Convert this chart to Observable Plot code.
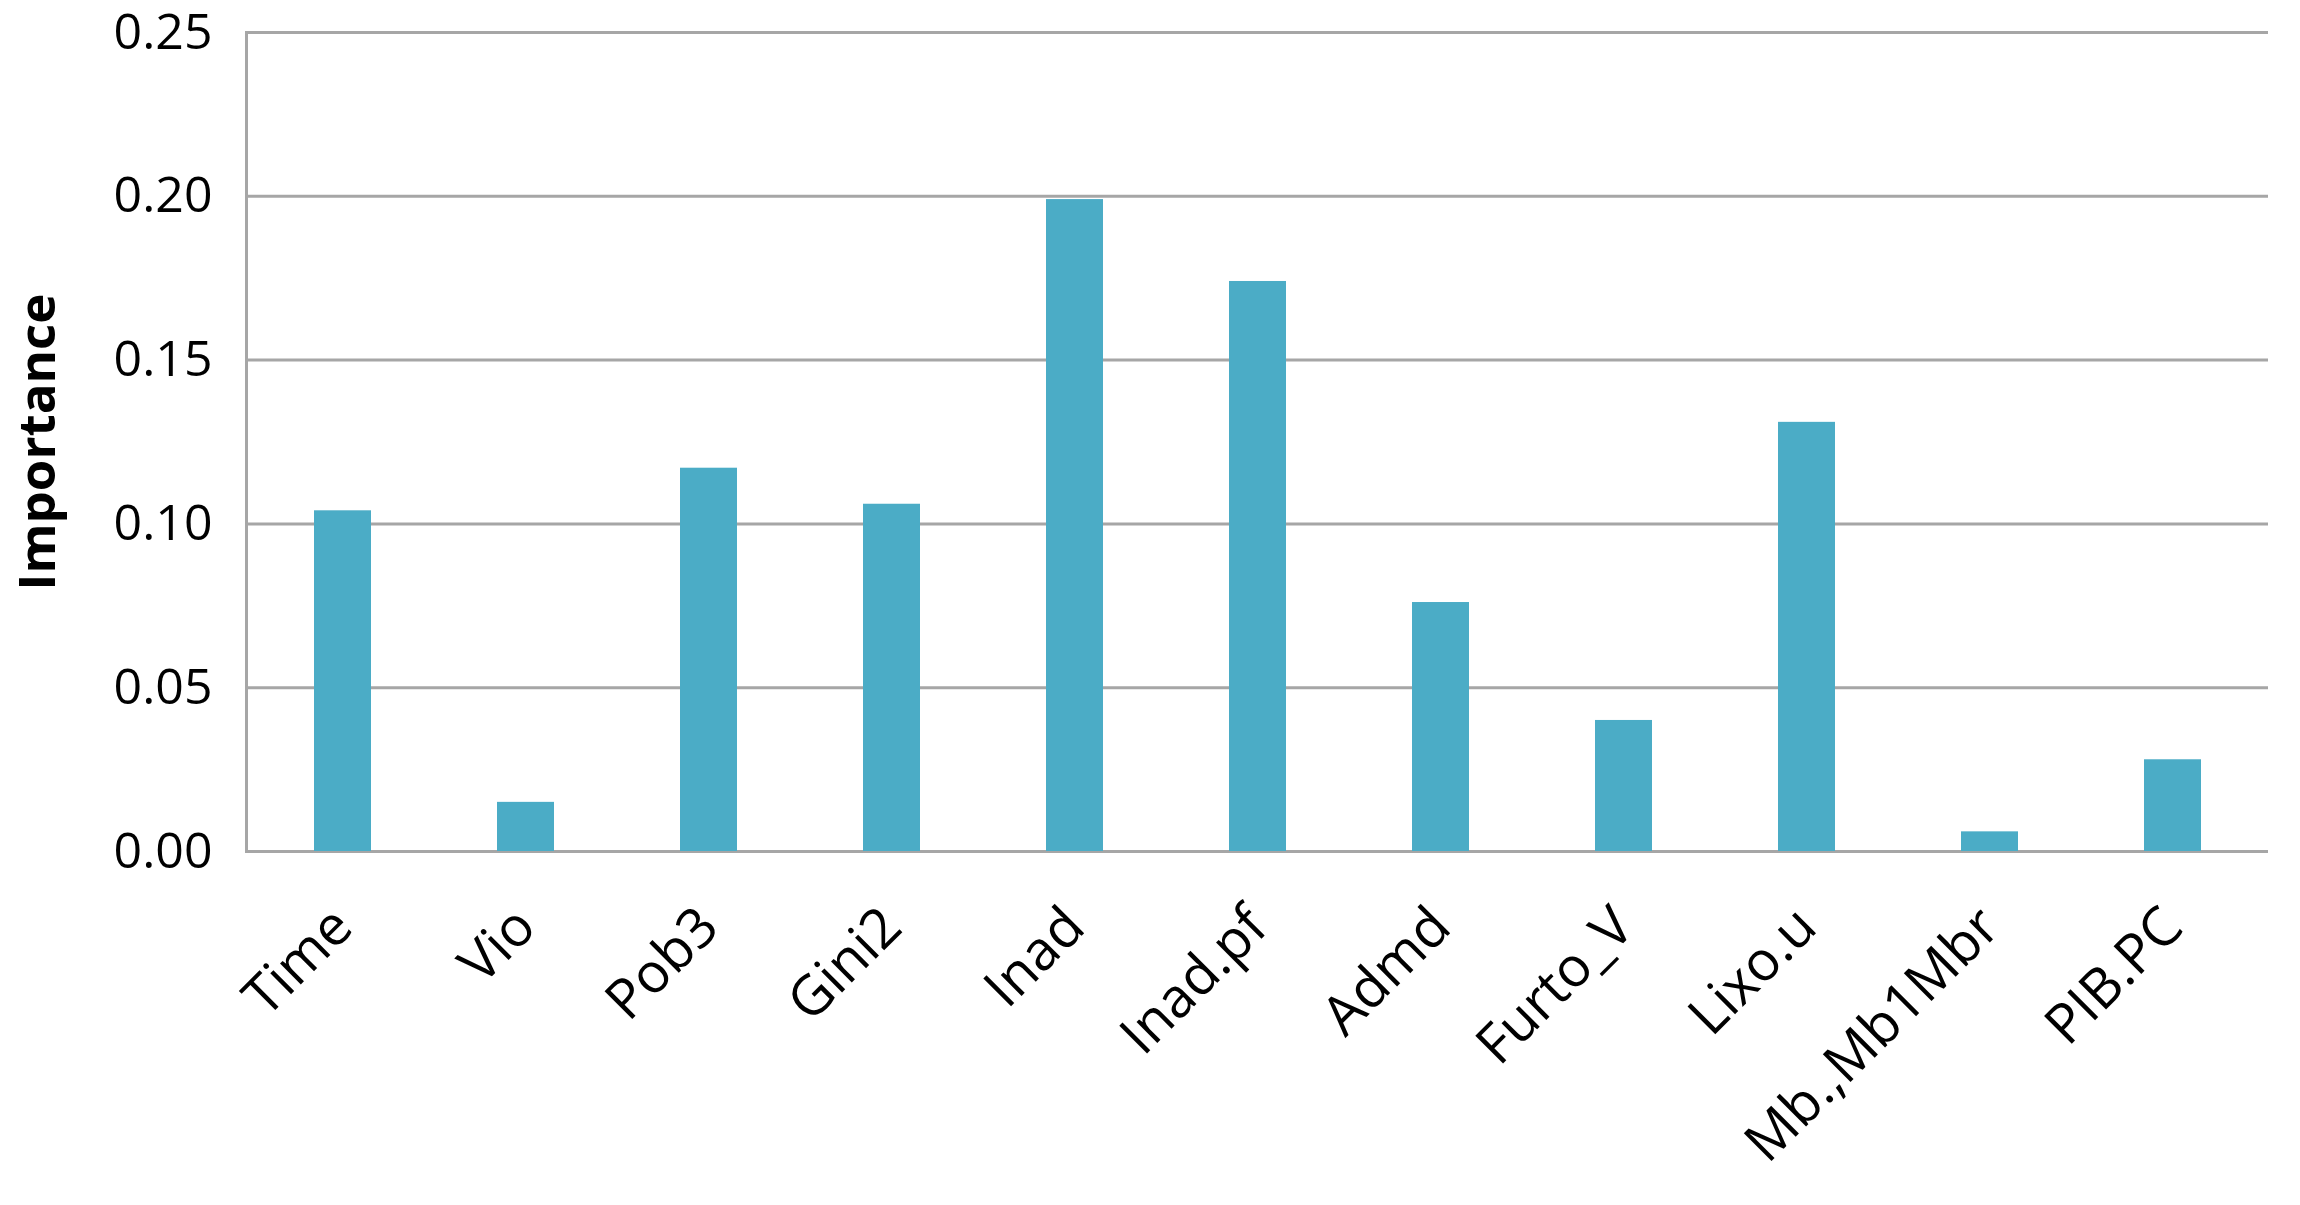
<!DOCTYPE html>
<html>
<head>
<meta charset="utf-8">
<script src="https://cdn.jsdelivr.net/npm/d3@7"></script>
<script src="https://cdn.jsdelivr.net/npm/@observablehq/plot@0.6"></script>
<style>
  html, body { margin: 0; padding: 0; background: #fff; }
  #chart svg { display: block; }
</style>
</head>
<body>
<div id="chart"></div>
<script>
const categories = ["Time", "Vio", "Pob3", "Gini2", "Inad", "Inad.pf", "Admd", "Furto_V", "Lixo.u", "Mb.,Mb1Mbr", "PIB.PC"];
const importance = [0.104, 0.015, 0.117, 0.106, 0.199, 0.174, 0.076, 0.040, 0.131, 0.006, 0.028];
const yTicks = [0, 0.05, 0.10, 0.15, 0.20, 0.25];
const yLabel = "Importance";

const data = categories.map((c, i) => ({ name: c, value: importance[i] }));

const chart = Plot.plot({
  width: 2300,
  height: 1205,
  marginLeft: 246,
  marginRight: 32,
  marginTop: 32,
  marginBottom: 354,
  style: { fontFamily: "'Open Sans', sans-serif", fontSize: "50px", color: "#000", background: "#fff" },
  x: { domain: categories, paddingInner: 0.69, paddingOuter: 0.345, label: null },
  y: { domain: [0, 0.25], label: null },
  marks: [
    Plot.ruleY(yTicks, { stroke: "#a6a6a6", strokeWidth: 3 }),
    Plot.frame({ anchor: "left", stroke: "#a6a6a6", strokeWidth: 3 }),
    Plot.barY(data, { x: "name", y: "value", fill: "#4bacc6" }),
    Plot.axisY({ ticks: yTicks, tickFormat: d3.format(".2f"), tickSize: 0, tickPadding: 34, fontSize: 50, label: null }),
    Plot.axisX({ tickSize: 0, tickRotate: -45, tickPadding: 66, fontSize: 55, label: null }),
    Plot.text([yLabel], { frameAnchor: "left", dx: -208, rotate: -90, textAnchor: "middle", fontSize: 51, fontWeight: "bold", text: d => d })
  ]
});

document.getElementById("chart").appendChild(chart);
</script>
</body>
</html>
